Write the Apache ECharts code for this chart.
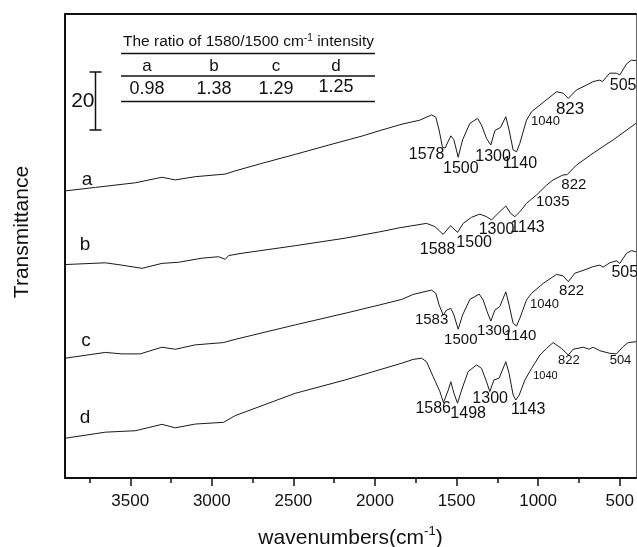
<!DOCTYPE html>
<html><head><meta charset="utf-8">
<script src="https://cdn.jsdelivr.net/npm/echarts@6/dist/echarts.min.js"></script>
<style>html,body{margin:0;padding:0;background:#fff}#c{width:637px;height:547px}</style>
</head><body><div id="c"></div>
<script>
const FONT = '"Liberation Sans", Arial, Helvetica, sans-serif';

// axis
const xMin = 400, xMax = 3900;
const yMin = 0, yMax = 160;
const xTicks = [500, 1000, 1500, 2000, 2500, 3000, 3500];
const xMinorTicks = [750, 1250, 1750, 2250, 2750, 3250, 3750];

// spectra: [wavenumber (cm-1), transmittance (offset, a.u.)]
const curveA = [[3900,99.0],[3714,100.2],[3469,101.8],[3306,103.7],[3224,102.8],[3102,103.9],[2918,104.8],[2857,105.9],[2693,108.5],[2489,111.6],[2284,114.8],[2080,117.9],[1970,119.8],[1835,122.0],[1725,123.4],[1653,125.2],[1627,124.4],[1607,120.0],[1586,114.0],[1570,113.8],[1535,118.0],[1516,116.6],[1490,110.6],[1463,116.6],[1418,122.3],[1371,124.0],[1347,121.7],[1316,117.1],[1290,114.8],[1265,119.8],[1230,120.9],[1198,124.6],[1178,120.0],[1153,113.1],[1132,112.5],[1112,115.4],[1071,123.4],[1040,126.3],[989,128.6],[887,133.2],[847,132.7],[815,130.9],[765,133.8],[703,135.5],[663,136.7],[622,137.2],[605,136.7],[561,139.6],[520,139.6],[499,139.0],[458,142.8],[428,144.1],[400,143.9]];
const curveB = [[3900,73.6],[3653,74.2],[3551,73.4],[3428,72.3],[3306,74.0],[3203,74.4],[3061,75.8],[2958,76.3],[2918,75.4],[2897,76.7],[2815,77.5],[2489,80.1],[2183,82.7],[1970,84.9],[1847,86.3],[1684,87.8],[1633,86.7],[1582,84.0],[1537,87.0],[1494,84.7],[1459,87.8],[1408,89.9],[1357,91.0],[1316,90.1],[1285,89.0],[1245,91.3],[1198,93.8],[1169,91.3],[1143,90.1],[1112,91.8],[1071,94.7],[1010,97.6],[948,101.0],[908,102.8],[847,104.5],[822,104.6],[765,107.9],[663,112.0],[540,116.6],[400,122.3]];
const curveC = [[3900,41.3],[3653,43.3],[3551,42.8],[3439,42.8],[3306,45.1],[3224,44.4],[3102,45.9],[2928,46.7],[2857,47.8],[2489,52.8],[2183,56.8],[1970,59.7],[1835,61.6],[1766,63.3],[1653,64.8],[1627,63.7],[1607,59.7],[1582,56.2],[1561,57.9],[1535,58.5],[1516,56.2],[1490,51.3],[1463,56.2],[1418,61.6],[1361,63.4],[1337,61.4],[1312,57.3],[1290,54.1],[1265,57.9],[1235,59.1],[1198,64.2],[1178,59.7],[1153,53.3],[1132,52.4],[1112,55.1],[1071,61.4],[1040,63.7],[969,67.1],[887,70.2],[847,69.7],[815,67.7],[775,70.6],[703,72.0],[663,72.9],[622,73.4],[602,72.7],[561,74.2],[520,74.9],[499,74.0],[458,77.5],[428,78.4],[400,78.0]];
const curveD = [[3900,13.7],[3653,15.8],[3469,16.3],[3306,18.5],[3224,17.3],[3102,18.6],[2928,19.2],[2857,21.5],[2489,29.2],[2183,33.8],[1835,39.6],[1766,40.9],[1714,41.3],[1684,40.1],[1643,34.9],[1602,29.8],[1580,26.0],[1551,30.3],[1535,33.2],[1516,29.2],[1494,25.8],[1469,30.3],[1429,36.7],[1377,39.0],[1347,37.8],[1320,33.8],[1296,29.8],[1271,33.8],[1239,34.4],[1198,40.1],[1178,36.1],[1153,28.6],[1137,26.9],[1116,28.6],[1081,33.8],[1040,37.8],[989,42.4],[948,44.7],[908,46.7],[857,44.7],[815,42.4],[785,44.4],[724,45.1],[687,44.4],[663,45.1],[622,43.9],[561,43.0],[520,42.8],[479,45.3],[448,46.7],[400,47.0]];

// curve names and where they are written
const curveNames = ['a', 'b', 'c', 'd'];
const curveNamePos = [[3765,102.8],[3777,80.3],[3771,47.2],[3777,20.7]];

// peak annotations: [wavenumber, transmittance, text]
const annA = [[1684,111.6,'1578'],[1474,106.8,'1500'],[1276,110.8,'1300'],[1112,108.3,'1140'],[955,123.1,'1040'],[804,127.2,'823'],[479,135.3,'505']];
const annB = [[1616,78.6,'1588'],[1392,81.1,'1500'],[1255,85.8,'1300'],[1065,86.3,'1143'],[910,95.1,'1035'],[781,101.0,'822']];
const annC = [[1653,54.7,'1583'],[1474,47.8,'1500'],[1273,50.8,'1300'],[1110,49.0,'1140'],[961,59.9,'1040'],[795,64.5,'822'],[469,70.9,'505']];
const annD = [[1643,23.8,'1586'],[1429,22.1,'1498'],[1294,27.5,'1300'],[1061,23.7,'1143'],[955,35.3,'1040'],[812,40.4,'822'],[495,40.4,'504']];
// font sizes of the annotations (style)
const sizeA = [16,16,16,16,13,17,16];
const sizeB = [16,16,16,16,15,15];
const sizeC = [15,15,15,15,13,15,16];
const sizeD = [16,16,16,16,11,13,13];

// inset table
const tableTitle = 'The ratio of 1580/1500 cm';
const tableHeaders = ['a', 'b', 'c', 'd'];
const tableValues = ['0.98', '1.38', '1.29', '1.25'];
const scaleBarValue = 20;
const scaleBarFrom = 120;     // transmittance where bar starts
const scaleBarAt = 3718;      // wavenumber of bar

const curves = [curveA, curveB, curveC, curveD];
const anns = [annA, annB, annC, annD];
const sizes = [sizeA, sizeB, sizeC, sizeD];

const chart = echarts.init(document.getElementById('c'), null, {renderer: 'canvas'});

const TXT = '#111';
const series = [];
curves.forEach((c, i) => {
  series.push({
    type: 'line', name: curveNames[i], data: c, showSymbol: false, symbol: 'none',
    lineStyle: {color: '#1a1a1a', width: 1}, silent: true, animation: false,
    xAxisIndex: 0, yAxisIndex: 0
  });
});
anns.forEach((a, i) => {
  series.push({
    type: 'scatter', symbolSize: 0, silent: true, animation: false,
    xAxisIndex: 0, yAxisIndex: 0,
    itemStyle: {opacity: 1, color: TXT},
    data: a.map((p, j) => ({value: [p[0], p[1]], name: p[2], label: {fontSize: sizes[i][j]}})),
    label: {show: true, position: 'inside', formatter: '{b}', color: TXT, opacity: 1, fontFamily: FONT}
  });
});
series.push({
  type: 'scatter', symbolSize: 0, silent: true, animation: false,
  itemStyle: {opacity: 1, color: TXT},
  data: curveNamePos.map((p, i) => ({value: p, name: curveNames[i]})),
  label: {show: true, position: 'inside', formatter: '{b}', color: TXT, opacity: 1, fontFamily: FONT, fontSize: 19}
});

const option = {
  backgroundColor: '#fff',
  animation: false,
  grid: {left: 65, top: 14, right: 1, bottom: 69, containLabel: false, outerBoundsMode: 'none'},
  xAxis: [
    {
      type: 'value', min: xMin, max: xMax, inverse: true, position: 'bottom',
      axisLine: {show: true, onZero: false, lineStyle: {color: '#111', width: 2}},
      axisTick: {show: true, customValues: xTicks, length: 8, lineStyle: {color: '#111', width: 1.5}},
      axisLabel: {show: true, customValues: xTicks, formatter: v => String(v), fontSize: 17, color: TXT, fontFamily: FONT, margin: 15},
      splitLine: {show: false},
      name: '{n|wavenumbers(cm}{s|-1}{n|)}', nameLocation: 'middle', nameGap: 47,
      nameTextStyle: {
        rich: {
          n: {fontSize: 21, fontFamily: FONT, color: TXT, lineHeight: 26},
          s: {fontSize: 13, fontFamily: FONT, color: TXT, lineHeight: 14, verticalAlign: 'top'}
        }
      }
    },
    {
      type: 'value', min: xMin, max: xMax, inverse: true, position: 'bottom',
      axisLine: {show: false, onZero: false},
      axisTick: {show: true, customValues: xMinorTicks, length: 5, lineStyle: {color: '#111', width: 1.5}},
      axisLabel: {show: false}, splitLine: {show: false}
    },
    {
      type: 'value', min: xMin, max: xMax, inverse: true, position: 'top',
      axisLine: {show: true, onZero: false, lineStyle: {color: '#111', width: 2}},
      axisTick: {show: false}, axisLabel: {show: false}, splitLine: {show: false}
    }
  ],
  yAxis: [
    {
      type: 'value', min: yMin, max: yMax, position: 'left',
      axisLine: {show: true, onZero: false, lineStyle: {color: '#111', width: 2}},
      axisTick: {show: false}, axisLabel: {show: false}, splitLine: {show: false}
    },
    {
      type: 'value', min: yMin, max: yMax, position: 'right',
      axisLine: {show: true, onZero: false, lineStyle: {color: '#666', width: 1}},
      axisTick: {show: false}, axisLabel: {show: false}, splitLine: {show: false}
    }
  ],
  series: series
};
chart.setOption(option);

// inset table, scale bar, y title
const pTop = chart.convertToPixel({xAxisIndex: 0, yAxisIndex: 0}, [scaleBarAt, scaleBarFrom + scaleBarValue]);
const pBot = chart.convertToPixel({xAxisIndex: 0, yAxisIndex: 0}, [scaleBarAt, scaleBarFrom]);
const tblLeft = 121, tblRight = 375;
const colX = [147, 214, 276, 336];
const g = [];
g.push({type: 'text', x: 22, y: 232, rotation: Math.PI / 2, style: {text: 'Transmittance', font: '21px ' + FONT, fill: TXT, align: 'center', verticalAlign: 'middle'}});
g.push({type: 'text', x: 123, y: 42, style: {
  text: '{t|' + tableTitle + '}{s|-1}{t| intensity}', align: 'left', verticalAlign: 'middle',
  rich: {t: {fontSize: 15.5, fontFamily: FONT, fill: TXT, lineHeight: 18}, s: {fontSize: 10, fontFamily: FONT, fill: TXT, lineHeight: 11, verticalAlign: 'top'}}
}});
[53.5, 76, 101.5].forEach(y => g.push({type: 'line', shape: {x1: tblLeft, y1: y, x2: tblRight, y2: y}, style: {stroke: '#111', lineWidth: 1.3}}));
tableHeaders.forEach((h, i) => g.push({type: 'text', x: colX[i], y: 66, style: {text: h, font: '17px ' + FONT, fill: TXT, align: 'center', verticalAlign: 'middle'}}));
tableValues.forEach((v, i) => g.push({type: 'text', x: colX[i], y: i === 3 ? 87.5 : 89, style: {text: v, font: '18px ' + FONT, fill: TXT, align: 'center', verticalAlign: 'middle'}}));
// scale bar
const bx = Math.round(pTop[0]) + 0.5;
g.push({type: 'line', shape: {x1: bx, y1: pTop[1], x2: bx, y2: pBot[1]}, style: {stroke: '#111', lineWidth: 1.5}});
g.push({type: 'line', shape: {x1: bx - 6, y1: pTop[1], x2: bx + 6, y2: pTop[1]}, style: {stroke: '#111', lineWidth: 1.5}});
g.push({type: 'line', shape: {x1: bx - 6, y1: pBot[1], x2: bx + 6, y2: pBot[1]}, style: {stroke: '#111', lineWidth: 1.5}});
g.push({type: 'text', x: bx - 1, y: (pTop[1] + pBot[1]) / 2, style: {text: String(scaleBarValue), font: '21px ' + FONT, fill: TXT, align: 'right', verticalAlign: 'middle'}});
chart.setOption({graphic: {elements: g}});
</script>
</body></html>
